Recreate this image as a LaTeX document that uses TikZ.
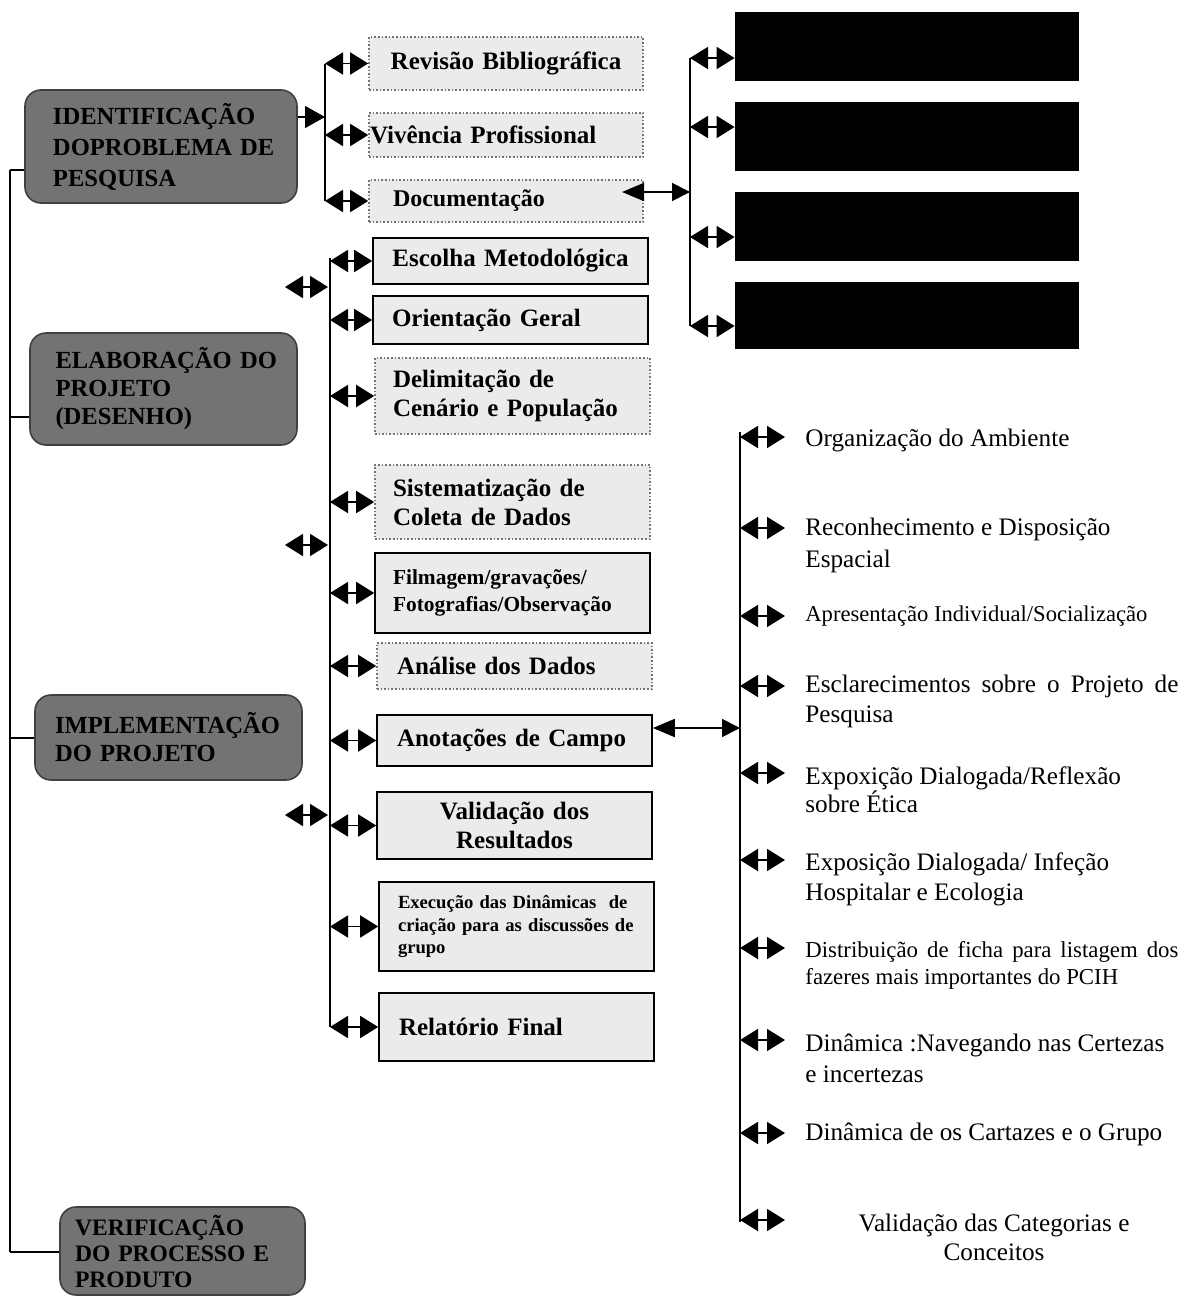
\documentclass[tikz,border=0pt]{standalone}
\usepackage{fontspec}
\setmainfont{Liberation Serif}
\usetikzlibrary{arrows.meta}
\tikzset{
  trunk/.style={line width=1.3pt, black},
  darr/.style={line width=0.9pt, {Triangle[length=9pt,width=11pt]}-{Triangle[length=9pt,width=11pt]}},
  darrl/.style={line width=0.9pt, {Triangle[length=11pt,width=9pt]}-{Triangle[length=9pt,width=9pt]}},
  rarr/.style={line width=0.9pt, -{Triangle[length=10pt,width=11pt]}},
  bigbox/.style={draw=black!75, line width=0.8pt, fill=black!55, rounded corners=8pt, inner sep=0pt, align=left,
    font=\fontsize{12.3}{15.5}\selectfont\bfseries},
  sbox/.style={fill=black!8, inner sep=0pt, font=\fontsize{12.5}{14.5}\selectfont\bfseries},
  solidb/.style={sbox, draw=black, line width=0.8pt},
  dotb/.style={sbox, draw=black!55, densely dotted, line width=0.8pt},
  kbox/.style={fill=black, draw=black, inner sep=0pt},
  rtext/.style={anchor=west, align=left, inner sep=0pt, font=\fontsize{12.6}{15.5}\selectfont},
}
\begin{document}
\begin{tikzpicture}[x=0.5pt,y=-0.5pt]
\useasboundingbox[fill=white] (0,0) rectangle (1184,1301);

% ---------- main stage boxes ----------
\node[bigbox, minimum width=136pt, minimum height=56.5pt, text width=108pt] (B1) at (161,146.5)
  {\mbox{IDENTIFICAÇÃO}\\\mbox{DOPROBLEMA DE}\\\mbox{PESQUISA}};
\node[bigbox, minimum width=133.5pt, minimum height=56pt, text width=108pt, font=\fontsize{12.3}{14}\selectfont\bfseries] (B2) at (163.5,389)
  {\mbox{ELABORAÇÃO DO}\\\mbox{PROJETO}\\\mbox{(DESENHO)}};
\node[bigbox, minimum width=133.5pt, minimum height=42.5pt, text width=113.5pt, font=\fontsize{12.3}{14}\selectfont\bfseries] (B3) at (168.5,737.5)
  {\mbox{IMPLEMENTAÇÃO}\\\mbox{DO PROJETO}};
\node[bigbox, minimum width=122.5pt, minimum height=44pt, text width=107.5pt, font=\fontsize{11.8}{13}\selectfont\bfseries] (B4) at (182.5,1251)
  {\mbox{VERIFICAÇÃO}\\\mbox{DO PROCESSO E}\\\mbox{PRODUTO}};

% ---------- left trunk ----------
\coordinate (t1) at (10,170);
\coordinate (t2) at (10,417);
\coordinate (t3) at (10,738);
\coordinate (t4) at (10,1252);
\draw[trunk] (t1) -- (t4);
\draw[trunk] (t1) -- (t1 -| B1.west);
\draw[trunk] (t2) -- (t2 -| B2.west);
\draw[trunk] (t3) -- (t3 -| B3.west);
\draw[trunk] (t4) -- (t4 -| B4.west);

% ---------- first group ----------
\node[dotb, minimum width=137pt, minimum height=26.5pt, text width=130pt, align=center] (Rev) at (506,63.5) {Revisão Bibliográfica};
\node[dotb, minimum width=137pt, minimum height=22pt, text width=136pt, align=left] (Viv) at (506,135) {Vivência Profissional};
\node[dotb, minimum width=137pt, minimum height=21pt, text width=113pt, align=left, font=\fontsize{12}{14}\selectfont\bfseries] (Doc) at (506,201) {Documentação};

\coordinate (v1) at (325,117);
\draw[rarr] (B1.east |- v1) -- (v1);
\draw[trunk] (Rev.west -| v1) -- (Doc.west -| v1);
\draw[darr] (Rev.west -| v1) -- (Rev.west);
\draw[darr] (Viv.west -| v1) -- (Viv.west);
\draw[darr] (Doc.west -| v1) -- (Doc.west);

% ---------- black boxes ----------
\node[kbox, minimum width=171.5pt, minimum height=34pt] (K1) at (906.5,46) {};
\node[kbox, minimum width=171.5pt, minimum height=34pt] (K2) at (906.5,136) {};
\node[kbox, minimum width=171.5pt, minimum height=34pt] (K3) at (906.5,226) {};
\node[kbox, minimum width=171.5pt, minimum height=33pt] (K4) at (906.5,315) {};

\coordinate (dstart) at (622,192);
\coordinate (vr) at (690,192);
\coordinate (vk1) at (690,58);
\coordinate (vk2) at (690,127);
\coordinate (vk3) at (690,237);
\coordinate (vk4) at (690,326);
\draw[trunk] (vk1) -- (vk4);
\draw[darrl] (dstart) -- (vr);
\draw[darr] (vk1) -- (vk1 -| K1.west);
\draw[darr] (vk2) -- (vk2 -| K2.west);
\draw[darr] (vk3) -- (vk3 -| K3.west);
\draw[darr] (vk4) -- (vk4 -| K4.west);

% ---------- second group ----------
\node[solidb, minimum width=137.5pt, minimum height=23pt, text width=130pt, align=center] (Esc) at (510.5,261) {Escolha Metodológica};
\node[solidb, minimum width=137.5pt, minimum height=24pt, text width=118.5pt, align=left] (Ori) at (510.5,320) {Orientação Geral};
\node[dotb, minimum width=137.5pt, minimum height=38pt, text width=119.5pt, align=left] (Del) at (512.5,396) {Delimitação de\\Cenário e População};
\node[dotb, minimum width=137.5pt, minimum height=37pt, text width=119.5pt, align=left] (Sis) at (512.5,502) {Sistematização de\\Coleta de Dados};
\node[solidb, minimum width=137.5pt, minimum height=40pt, text width=119.5pt, align=left, font=\fontsize{10.7}{13.5}\selectfont\bfseries] (Fil) at (512.5,593) {Filmagem/gravações/\\Fotografias/Observação};
\node[dotb, minimum width=137.5pt, minimum height=23pt, text width=117.5pt, align=left] (Ana) at (514.5,666) {Análise dos Dados};
\node[solidb, minimum width=137.5pt, minimum height=25.5pt, text width=117.5pt, align=left] (Ano) at (514.5,740.5) {Anotações de Campo};
\node[solidb, minimum width=137.5pt, minimum height=33.5pt, text width=130pt, align=center] (Val) at (514.5,825.5) {Validação dos\\Resultados};
\node[solidb, minimum width=137.5pt, minimum height=44.5pt, text width=118.5pt, align=left, font=\fontsize{9.3}{11.3}\selectfont\bfseries] (Exe) at (516.5,926.5) {\mbox{Execução das Dinâmicas~ de}\\\mbox{criação para as discussões de}\\grupo};
\node[solidb, minimum width=137.5pt, minimum height=34pt, text width=117.5pt, align=left] (Rel) at (516.5,1027) {Relatório Final};

\coordinate (mtop) at (330,258);
\draw[trunk] (mtop) -- (Rel.west -| mtop);
\foreach \b in {Esc,Ori,Del,Sis,Fil,Ana,Ano,Val,Exe,Rel}
  \draw[darr] (\b.west -| mtop) -- (\b.west);

% floating arrows at left of the middle trunk
\coordinate (fa1) at (285,287); \coordinate (fb1) at (328,287);
\coordinate (fa2) at (285,545); \coordinate (fb2) at (328,545);
\coordinate (fa3) at (285,815); \coordinate (fb3) at (328,815);
\draw[darr] (fa1) -- (fb1);
\draw[darr] (fa2) -- (fb2);
\draw[darr] (fa3) -- (fb3);

% ---------- third group ----------
\coordinate (rvA) at (740,728);
\draw[darrl] (Ano.east |- rvA) -- (rvA);
\coordinate (rtop) at (740,432);
\coordinate (rbot) at (740,1222);
\draw[trunk] (rtop) -- (rbot);

\node[rtext] (R1) at (805,440) {Organização do Ambiente};
\node[rtext, font=\fontsize{12.6}{16}\selectfont] (R2) at (805,545) {Reconhecimento e Disposição\\Espacial};
\node[rtext, font=\fontsize{11.3}{13.5}\selectfont] (R3) at (805,616) {Apresentação Individual/Socialização};
\node[rtext, text width=186.5pt, align=justify, font=\fontsize{12.6}{15}\selectfont] (R4) at (805,701) {Esclarecimentos sobre o Projeto de Pesquisa};
\node[rtext, font=\fontsize{12.6}{14}\selectfont] (R5) at (805,790) {Expoxição Dialogada/Reflexão\\sobre Ética};
\node[rtext, font=\fontsize{12.6}{15}\selectfont] (R6) at (805,879) {Exposição Dialogada/ Infeção\\Hospitalar e Ecologia};
\node[rtext, text width=186.5pt, align=justify, font=\fontsize{11.4}{13.5}\selectfont] (R7) at (805,965.5) {Distribuição de ficha para listagem dos fazeres mais importantes do PCIH};
\node[rtext, font=\fontsize{12.6}{15.5}\selectfont] (R8) at (805,1058.5) {Dinâmica :Navegando nas Certezas\\e incertezas};
\node[rtext] (R9) at (805,1134) {Dinâmica de os Cartazes e o Grupo};
\node[anchor=center, align=center, inner sep=0pt, font=\fontsize{12.6}{14.5}\selectfont] (R10) at (994,1237.5) {Validação das Categorias e\\Conceitos};

\foreach \y in {437,528,616,686,773,860,948,1040,1133,1220}
  \draw[darr] (740,\y) -- (785,\y);
\end{tikzpicture}
\end{document}
